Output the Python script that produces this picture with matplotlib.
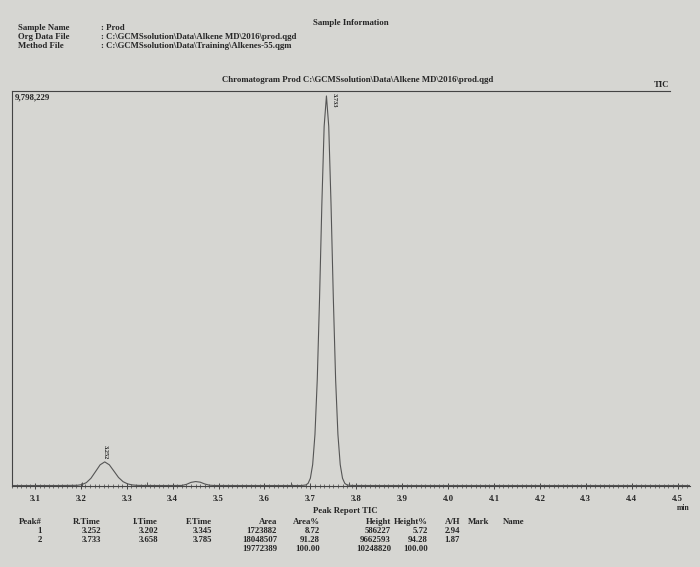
import matplotlib.pyplot as plt

czas = [3.05, 3.10, 3.15, 3.192, 3.202, 3.212, 3.222, 3.232, 3.242, 3.252, 3.262, 3.272,
        3.282, 3.292, 3.302, 3.312, 3.322, 3.335, 3.38, 3.42, 3.43, 3.44, 3.45, 3.46,
        3.47, 3.48, 3.49, 3.55, 3.62, 3.68, 3.69, 3.695, 3.70, 3.705, 3.71, 3.715, 3.72,
        3.725, 3.73, 3.735, 3.74, 3.745, 3.75, 3.755, 3.76, 3.765, 3.77, 3.775, 3.78,
        3.79, 3.85, 4.00, 4.20, 4.40, 4.527]
tic = [12000, 12000, 12000, 17000, 34000, 84000, 192000, 358000, 526000, 598000, 526000, 370000,
       212000, 107000, 52000, 27000, 17000, 13000, 12000, 14000, 40000, 90000, 110000, 95000,
       50000, 20000, 13000, 12000, 12000, 12000, 25000, 65000, 192000, 532000, 1280000, 2640000, 4660000,
       6990000, 8920000, 9675000, 8920000, 6990000, 4660000, 2640000, 1280000, 532000, 192000, 65000, 25000,
       13000, 12000, 12000, 12000, 12000, 12000]
y_max = 9798229

# tabela pikow (Peak Report TIC)
peak_no = ["1", "2", ""]
r_time = ["3.252", "3.733", ""]
i_time = [3.202, 3.658]
f_time = [3.345, 3.785]
area = ["1723882", "18048507", "19772389"]
area_pct = ["8.72", "91.28", "100.00"]
height = ["586227", "9662593", "10248820"]
height_pct = ["5.72", "94.28", "100.00"]
a_h = ["2.94", "1.87", ""]
peak_top = [(3.252, 598000), (3.735, 9675000)]

tlo = '#d6d6d2'
kolor = '#262626'
plt.rcParams['font.family'] = ['Liberation Serif', 'DejaVu Serif']
plt.rcParams['font.size'] = 6.3
plt.rcParams['font.weight'] = 'bold'
plt.rcParams['text.color'] = kolor
plt.rcParams['xtick.color'] = kolor

fig = plt.figure(figsize=(7, 5.67), dpi=100, facecolor=tlo)
W, H = 700.0, 567.0

def napis(x, y, s, **kw):
    # pozycja w pikselach obrazka (od gory)
    fig.text(x / W, 1 - y / H, s, va='center', **kw)

# naglowek
napis(18, 28, "Sample Name")
napis(18, 37, "Org Data File")
napis(18, 46, "Method File")
napis(101, 28, ": Prod")
napis(101, 37, ": C:\\GCMSsolution\\Data\\Alkene MD\\2016\\prod.qgd")
napis(101, 46, ": C:\\GCMSsolution\\Data\\Training\\Alkenes-55.qgm")
napis(313, 23, "Sample Information")
napis(222, 80, "Chromatogram Prod C:\\GCMSsolution\\Data\\Alkene MD\\2016\\prod.qgd")

# wykres
ax = fig.add_axes([12 / W, 1 - 486 / H, 678 / W, 395 / H])
ax.set_facecolor(tlo)
ax.plot(czas, tic, color='#555555', lw=0.8)
ax.set_xlim(3.05, 4.527)
ax.set_ylim(0, y_max)

# znaczniki poczatku i konca pikow
ax.plot(i_time + f_time, [12000] * 4, ls='none', marker='|', ms=6, color='#555555', mew=0.7)
for (x, y), lab in zip(peak_top, r_time):
    if x < 3.5:
        ax.text(x, y + 60000, lab, rotation=270, fontsize=4.5, ha='center', va='bottom')
    else:
        ax.text(x + 0.016, y_max * 0.995, lab, rotation=270, fontsize=4.5, ha='center', va='top')

ax.spines['right'].set_visible(False)
ax.spines['top'].set_bounds(3.05, 4.483)
for s in ax.spines.values():
    s.set_color('#444444')
    s.set_linewidth(0.8)
ax.set_yticks([])
ax.set_xticks([3.1, 3.2, 3.3, 3.4, 3.5, 3.6, 3.7, 3.8, 3.9, 4.0, 4.1, 4.2, 4.3, 4.4, 4.5])
ax.set_xticks([3.05 + 0.01 * i for i in range(148)], minor=True)
ax.tick_params(axis='x', which='major', direction='inout', length=5, width=0.7,
               color='#444444', labelsize=6.3, pad=4)
ax.tick_params(axis='x', which='minor', direction='inout', length=2.5, width=0.5, color='#444444')
ax.text(0.004, 0.995, "9,798,229", transform=ax.transAxes, ha='left', va='top')
ax.text(4.483, y_max * 1.005, "TIC", ha='right', va='bottom')
napis(683, 508, "min", ha='center', fontsize=5.5)

# raport pikow
napis(345, 511, "Peak Report TIC", ha='center')
kolumny = [(42, "Peak#", peak_no), (101, "R.Time", r_time),
           (158, "I.Time", [f"{v:.3f}" for v in i_time] + [""]),
           (212, "F.Time", [f"{v:.3f}" for v in f_time] + [""]),
           (277, "Area", area), (320, "Area%", area_pct),
           (391, "Height", height), (428, "Height%", height_pct), (460, "A/H", a_h)]
for x, nag, wart in kolumny:
    napis(x, 522, nag, ha='right')
    for i, w in enumerate(wart):
        napis(x, 531 + 9 * i, w, ha='right')
napis(468, 522, "Mark")
napis(503, 522, "Name")

plt.savefig("out.png", dpi=100, facecolor=tlo)
